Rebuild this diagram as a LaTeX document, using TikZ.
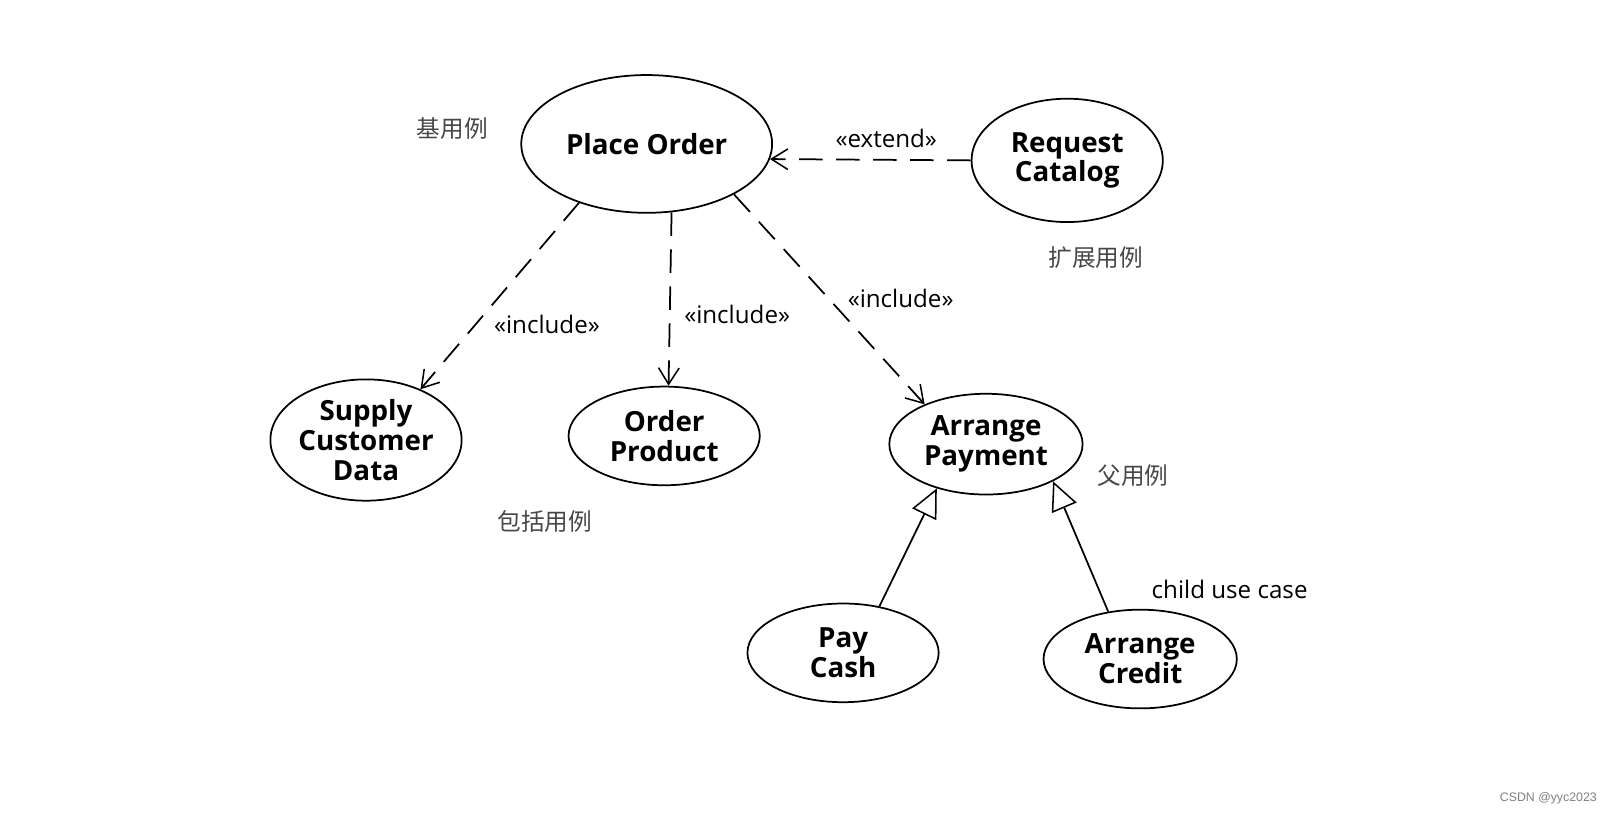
\documentclass[tikz,border=0pt]{standalone}
\usepackage{fontspec}
\setmainfont{Open Sans}
\newfontfamily\cjk{Noto Sans CJK SC}
\newfontfamily\wmfont{Liberation Sans}
\usetikzlibrary{shapes.geometric,arrows.meta}
\begin{document}
\begin{tikzpicture}[x=1pt,y=-1pt,
  uc/.style={draw,ellipse,line width=1.7pt,inner sep=0pt,align=center,
    font=\fontsize{27}{29}\selectfont\bfseries},
  lbl/.style={inner sep=0pt,font=\fontsize{23.5}{23.5}\selectfont},
  cn/.style={inner sep=0pt,text=black!72,font=\cjk\fontsize{23}{23}\selectfont},
  dep/.style={line width=1.7pt,dash pattern=on 23pt off 13pt,
    -{Straight Barb[length=16pt,width=20pt,line width=1.5pt]}},
  gen/.style={line width=1.7pt,-{Triangle[open,length=28pt,width=26pt,line width=1.5pt,fill=white]}}]
\useasboundingbox[fill=white] (0,0) rectangle (1565,791);
\node[uc,minimum width=244pt,minimum height=134pt] (po) at (629,140) {Place Order};
\node[uc,minimum width=186pt,minimum height=120pt] (rc) at (1038,156) {Request\\Catalog};
\node[uc,minimum width=186pt,minimum height=118pt] (sc) at (356,428) {Supply\\Customer\\Data};
\node[uc,minimum width=186pt,minimum height=96pt] (op) at (646,424) {Order\\Product};
\node[uc,minimum width=188pt,minimum height=98pt] (ap) at (959,432) {Arrange\\Payment};
\node[uc,minimum width=186pt,minimum height=96pt] (pc) at (820,635) {Pay\\Cash};
\node[uc,minimum width=188pt,minimum height=96pt] (ac) at (1109,641) {Arrange\\Credit};
\draw[dep] (rc.west) -- (po.-7.5);
\draw[dep] (po.-139) -- (sc.43);
\draw[dep] (po.-70) -- (op.85);
\draw[dep] (po.-30) -- (ap.147);
\draw[gen] (pc.52) -- (ap.-138);
\draw[gen] (ac.124) -- (ap.-29);
\node[lbl] (ext) at (862,135) {«extend»};
\node[lbl] (in1) at (532,316) {«include»};
\node[lbl] (in2) at (717,306) {«include»};
\node[lbl] (in3) at (876,290) {«include»};
\node[lbl] (child) at (1196,573) {child use case};
\node[cn] (base) at (440,125) {基用例};
\node[cn] (extc) at (1066,251) {扩展用例};
\node[cn] (incc) at (530,507) {包括用例};
\node[cn] (par) at (1102,463) {父用例};
\node[inner sep=0pt,text=black!50,font=\wmfont\fontsize{12}{12}\selectfont] (wm) at (1506,776) {CSDN @yyc2023};
\end{tikzpicture}
\end{document}
